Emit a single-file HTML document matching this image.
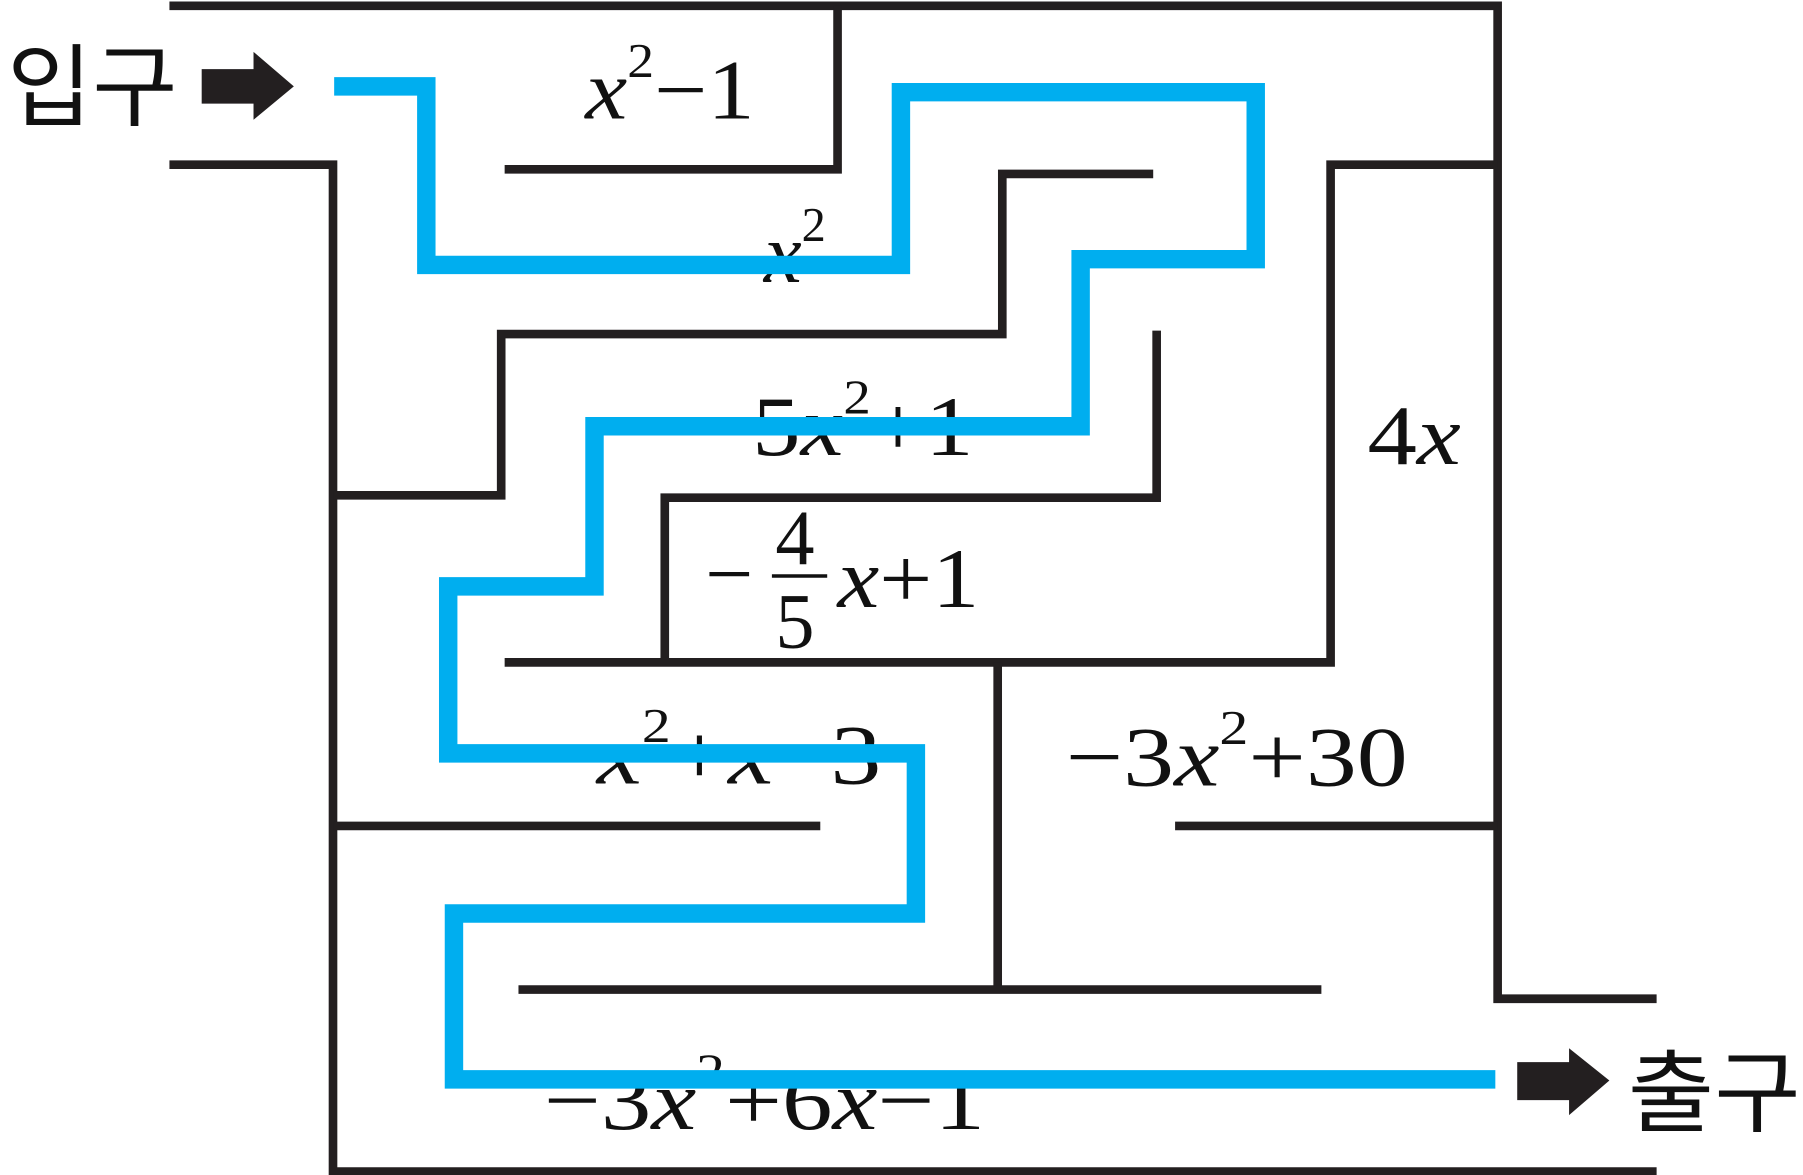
<!DOCTYPE html>
<html><head><meta charset="utf-8"><style>
html,body{margin:0;padding:0;background:#fff;}
svg{display:block;}
text{font-family:"Liberation Serif",serif;fill:#111;}
.k{font-family:"Liberation Sans","Noto Sans CJK KR",sans-serif;}
</style></head><body>
<svg width="1803" height="1175" viewBox="0 0 1565 1020" xmlns="http://www.w3.org/2000/svg">
<g fill="none" stroke="#231f20" stroke-width="7.5" stroke-linejoin="miter" stroke-linecap="butt">
<polyline points="147,5 1300,5 1300,867 1438,867"/>
<polyline points="727,5 727,147 438,147"/>
<polyline points="147,143 289,143 289,1017 1438,1017"/>
<polyline points="289,430 435,430 435,290 870,290 870,151 1001,151"/>
<polyline points="1004,287 1004,432 577,432 577,575"/>
<polyline points="438,575 1155,575 1155,143 1300,143"/>
<line x1="866" y1="575" x2="866" y2="859"/>
<line x1="450" y1="859" x2="1147" y2="859"/>
<line x1="289" y1="717" x2="712" y2="717"/>
<line x1="1020" y1="717" x2="1300" y2="717"/>
</g>
<g font-size="74">
<text x="508" y="103" textLength="147" lengthAdjust="spacingAndGlyphs"><tspan font-style="italic">x</tspan><tspan font-size="42" dy="-36">2</tspan><tspan dy="36">−1</tspan></text>
<text x="663" y="245"><tspan font-style="italic">x</tspan><tspan font-size="42" dy="-36">2</tspan></text>
<text x="653" y="395" textLength="192" lengthAdjust="spacingAndGlyphs">5<tspan font-style="italic">x</tspan><tspan font-size="42" dy="-36">2</tspan><tspan dy="36">+1</tspan></text>
<text x="612" y="523">−</text>
<text x="673" y="490" font-size="68">4</text>
<line x1="670" y1="500" x2="718" y2="500" stroke="#111" stroke-width="3"/>
<text x="673" y="562" font-size="68">5</text>
<text x="727" y="527" textLength="123" lengthAdjust="spacingAndGlyphs"><tspan font-style="italic">x</tspan>+1</text>
<text x="1187" y="403" textLength="81" lengthAdjust="spacingAndGlyphs">4<tspan font-style="italic">x</tspan></text>
<text x="518" y="680" textLength="247" lengthAdjust="spacingAndGlyphs"><tspan font-style="italic">x</tspan><tspan font-size="42" dy="-36">2</tspan><tspan dy="36">+</tspan><tspan font-style="italic">x</tspan>−3</text>
<text x="925" y="682" textLength="297" lengthAdjust="spacingAndGlyphs">−3<tspan font-style="italic">x</tspan><tspan font-size="42" dy="-36">2</tspan><tspan dy="36">+30</tspan></text>
<text x="472" y="980" textLength="383" lengthAdjust="spacingAndGlyphs">−3<tspan font-style="italic">x</tspan><tspan font-size="42" dy="-36">2</tspan><tspan dy="36">+6</tspan><tspan font-style="italic">x</tspan>−1</text>
</g>
<text class="k" x="6" y="103" font-size="78" textLength="148" lengthAdjust="spacingAndGlyphs">입구</text>
<text class="k" x="1413" y="976" font-size="78" textLength="150" lengthAdjust="spacingAndGlyphs">출구</text>
<polygon points="175,60 220,60 220,45 255,75 220,104 220,90 175,90" fill="#231f20"/>
<polygon points="1317,922 1362,922 1362,910 1397,938 1362,968 1362,955 1317,955" fill="#231f20"/>
<polyline fill="none" stroke="#00aeef" stroke-width="16" stroke-linejoin="miter" points="290,75 370,75 370,230 782,230 782,80 1090,80 1090,225 938,225 938,370 516,370 516,509 389,509 389,654 795,654 795,793 394,793 394,937 1298,937"/>
</svg>
</body></html>
